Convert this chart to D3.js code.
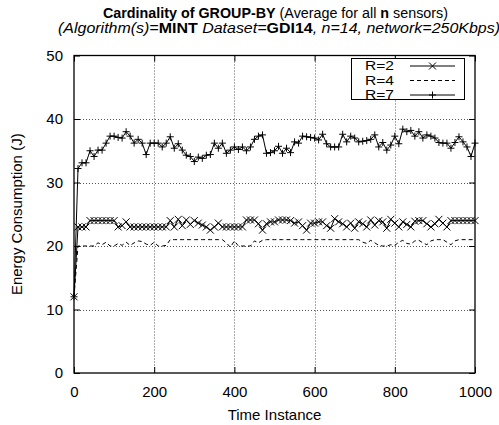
<!DOCTYPE html>
<html>
<head>
<meta charset="utf-8">
<script src="https://cdn.jsdelivr.net/npm/d3@7"></script>
<style>
  body { margin: 0; background: #fff; }
  svg { display: block; font-family: "Liberation Sans", Arial, Helvetica, sans-serif; }
</style>
</head>
<body>
<svg id="chart" width="499" height="425"></svg>
<script>
// ---- data ----
const timeInstances = [
  0, 10, 20, 30, 40, 50, 60, 70, 80, 90, 100,
  110, 120, 130, 140, 150, 160, 170, 180, 190, 200,
  210, 220, 230, 240, 250, 260, 270, 280, 290, 300,
  310, 320, 330, 340, 350, 360, 370, 380, 390, 400,
  410, 420, 430, 440, 450, 460, 470, 480, 490, 500,
  510, 520, 530, 540, 550, 560, 570, 580, 590, 600,
  610, 620, 630, 640, 650, 660, 670, 680, 690, 700,
  710, 720, 730, 740, 750, 760, 770, 780, 790, 800,
  810, 820, 830, 840, 850, 860, 870, 880, 890, 900,
  910, 920, 930, 940, 950, 960, 970, 980, 990, 1000
];
const seriesNames = ["R=2", "R=4", "R=7"];
const r2Values = [
  12,
  23.0, 23.0, 23.0, 24.0, 24.0, 24.0, 24.0, 24.0, 24.0, 24.0,
  23.0, 23.2, 23.8, 23.0, 23.0, 23.0, 23.0, 23.0, 23.0, 23.0,
  23.0, 23.0, 23.0, 24.0, 23.0, 24.2, 23.2, 24.1, 23.4, 24.0,
  23.6, 23.3, 23.0, 22.5, 23.0, 23.6, 23.0, 23.0, 23.0, 23.0,
  23.0, 23.0, 24.1, 24.1, 24.1, 23.5, 22.5, 23.5, 23.8, 23.8,
  24.1, 24.1, 24.1, 24.0, 23.6, 23.8, 23.2, 22.5, 23.6, 23.6,
  23.8, 23.8, 23.2, 22.8, 24.3, 23.8, 23.5, 23.0, 23.6, 22.8,
  23.8, 23.5, 23.0, 24.1, 23.3, 24.0, 23.8, 22.8, 24.2, 23.6,
  23.0, 23.8, 23.4, 23.0, 23.9, 24.0, 24.0, 23.5, 23.0, 23.5,
  24.2, 23.6, 23.0, 24.0, 24.0, 24.0, 24.0, 24.0, 24.0, 24.0
];
const r4Values = [
  12,
  20.0, 20.0, 20.0, 20.0, 20.0, 20.5, 20.2, 20.6, 20.0, 20.0,
  20.4, 20.1, 20.6, 20.1, 20.5, 20.8, 20.7, 20.3, 20.1, 20.6,
  20.0, 20.0, 20.1, 21.0, 21.0, 21.0, 21.0, 21.0, 21.0, 21.0,
  21.0, 21.0, 21.0, 21.0, 21.0, 21.0, 21.0, 20.5, 19.8, 20.8,
  20.0, 20.0, 20.0, 20.0, 20.8, 20.5, 20.9, 21.0, 21.0, 21.0,
  21.0, 21.0, 21.0, 21.0, 21.0, 21.0, 21.0, 21.0, 21.0, 21.0,
  21.0, 21.0, 21.0, 21.0, 21.0, 21.0, 21.0, 21.0, 21.0, 21.0,
  21.0, 20.6, 20.4, 20.9, 20.5, 20.1, 20.0, 20.0, 20.2, 20.1,
  20.6, 20.9, 20.4, 20.3, 20.8, 20.9, 20.5, 20.2, 20.8, 21.0,
  21.0, 21.0, 20.6, 20.2, 20.8, 21.0, 21.0, 21.0, 21.0, 21.0
];
const r7Values = [
  12,
  32.2, 33.1, 33.1, 35.0, 34.1, 35.1, 35.1, 36.2, 37.3, 37.3,
  37.1, 37.0, 38.0, 37.3, 36.2, 36.8, 36.2, 34.4, 36.2, 36.2,
  36.2, 35.6, 36.2, 37.2, 35.4, 36.1, 35.1, 34.3, 34.1, 33.3,
  34.0, 33.8, 34.3, 34.4, 36.2, 35.4, 36.2, 34.6, 35.1, 35.6,
  35.2, 35.6, 35.0, 35.6, 36.8, 37.3, 37.5, 34.6, 34.7, 35.0,
  35.7, 34.6, 35.4, 34.7, 36.4, 36.2, 37.3, 37.2, 37.1, 37.0,
  36.7, 37.6, 36.1, 35.6, 35.6, 35.6, 37.6, 36.4, 37.3, 37.0,
  36.4, 36.5, 36.6, 36.8, 37.5, 35.6, 36.3, 35.1, 35.9, 37.3,
  36.1, 38.4, 38.0, 38.2, 37.3, 38.0, 37.0, 37.5, 37.3, 37.0,
  36.3, 36.2, 36.2, 35.4, 36.3, 37.2, 36.4, 35.6, 34.1, 36.2
];
const xTickValues = [0, 200, 400, 600, 800, 1000];
const yTickValues = [0, 10, 20, 30, 40, 50];
const xGridValues = [200, 400, 600, 800];
const yGridValues = [10, 20, 30, 40];

// ---- layout ----
const svg = d3.select("#chart");
const pL = 74, pR = 475, pT = 55.5, pB = 373;
const x = d3.scaleLinear().domain([0, 1000]).range([pL, pR]);
const y = d3.scaleLinear().domain([0, 50]).range([pB, pT]);

// grid
const grid = svg.append("g").attr("stroke", "#555").attr("stroke-width", 1).attr("stroke-dasharray", "1,2");
grid.selectAll(".gx").data(xGridValues).join("line")
  .attr("x1", d => Math.round(x(d)) + 0.5).attr("x2", d => Math.round(x(d)) + 0.5)
  .attr("y1", pT).attr("y2", pB);
grid.selectAll(".gy").data(yGridValues).join("line")
  .attr("y1", d => Math.round(y(d)) + 0.5).attr("y2", d => Math.round(y(d)) + 0.5)
  .attr("x1", pL).attr("x2", pR);

// axes (inward ticks, mirrored)
const fs = "15px";
const axB = svg.append("g").attr("transform", `translate(0,${pB})`)
  .call(d3.axisBottom(x).tickValues(xTickValues).tickSize(-6).tickPadding(13).tickFormat(d3.format("d")));
const axT = svg.append("g").attr("transform", `translate(0,${pT})`)
  .call(d3.axisTop(x).tickValues(xTickValues).tickSize(-6).tickFormat(""));
const axL = svg.append("g").attr("transform", `translate(${pL},0)`)
  .call(d3.axisLeft(y).tickValues(yTickValues).tickSize(-6).tickPadding(11).tickFormat(d3.format("d")));
const axR = svg.append("g").attr("transform", `translate(${pR},0)`)
  .call(d3.axisRight(y).tickValues(yTickValues).tickSize(-6).tickFormat(""));
[axB, axT, axL, axR].forEach(a => {
  a.select(".domain").remove();
  a.selectAll("line").attr("stroke", "#000");
  a.selectAll("text").attr("fill", "#000").style("font-size", fs)
    .style("font-family", '"Liberation Sans", Arial, sans-serif');
});

// border
svg.append("rect").attr("x", pL).attr("y", pT).attr("width", pR - pL).attr("height", pB - pT)
  .attr("fill", "none").attr("stroke", "#000").attr("stroke-width", 1.3);

// lines
const lineGen = vals => d3.line().x((d, i) => x(timeInstances[i])).y(d => y(d))(vals);
const plot = svg.append("g");
plot.append("path").attr("d", lineGen(r4Values)).attr("fill", "none").attr("stroke", "#000")
  .attr("stroke-width", 1).attr("stroke-dasharray", "4,3");
plot.append("path").attr("d", lineGen(r2Values)).attr("fill", "none").attr("stroke", "#000").attr("stroke-width", 1);
plot.append("path").attr("d", lineGen(r7Values)).attr("fill", "none").attr("stroke", "#000").attr("stroke-width", 1);

const ms = 3.5;
function crossPath(cx, cy) { return `M${cx - ms},${cy - ms}L${cx + ms},${cy + ms}M${cx - ms},${cy + ms}L${cx + ms},${cy - ms}`; }
function plusPath(cx, cy) { return `M${cx - ms},${cy}L${cx + ms},${cy}M${cx},${cy - ms}L${cx},${cy + ms}`; }
plot.append("g").selectAll("path").data(r2Values).join("path")
  .attr("d", (d, i) => crossPath(x(timeInstances[i]), y(d))).attr("stroke", "#000").attr("stroke-width", 1).attr("fill", "none");
plot.append("g").selectAll("path").data(r7Values).join("path")
  .attr("d", (d, i) => plusPath(x(timeInstances[i]), y(d))).attr("stroke", "#000").attr("stroke-width", 1).attr("fill", "none");

// legend
const lg = svg.append("g");
lg.append("rect").attr("x", 351.5).attr("y", 58.5).attr("width", 113).attr("height", 41)
  .attr("fill", "#fff").attr("stroke", "#000").attr("stroke-width", 1);
const rowsY = [66, 80.5, 95];
const styles = [{ dash: null, mark: crossPath }, { dash: "4,3", mark: null }, { dash: null, mark: plusPath }];
seriesNames.forEach((name, i) => {
  lg.append("text").attr("x", 365).attr("y", rowsY[i]).attr("dy", "0.35em")
    .style("font-size", "12.5px").attr("textLength", 29).attr("lengthAdjust", "spacingAndGlyphs").text(name);
  lg.append("line").attr("x1", 410).attr("x2", 455).attr("y1", rowsY[i]).attr("y2", rowsY[i])
    .attr("stroke", "#000").attr("stroke-width", 1).attr("stroke-dasharray", styles[i].dash);
  if (styles[i].mark) lg.append("path").attr("d", styles[i].mark(432.5, rowsY[i])).attr("stroke", "#000").attr("fill", "none");
});

// titles
const t1 = svg.append("text").attr("x", 275.5).attr("y", 18).attr("text-anchor", "middle").style("font-size", "14px")
  .attr("textLength", 345).attr("lengthAdjust", "spacingAndGlyphs");
t1.append("tspan").attr("font-weight", "bold").text("Cardinality of GROUP-BY");
t1.append("tspan").text(" (Average for all ");
t1.append("tspan").attr("font-weight", "bold").text("n");
t1.append("tspan").text(" sensors)");
const t2 = svg.append("text").attr("x", 279).attr("y", 33).attr("text-anchor", "middle").style("font-size", "14px")
  .attr("textLength", 442).attr("lengthAdjust", "spacingAndGlyphs");
t2.append("tspan").attr("font-style", "italic").text("(Algorithm(s)=");
t2.append("tspan").attr("font-weight", "bold").text("MINT");
t2.append("tspan").attr("font-style", "italic").text(" Dataset=");
t2.append("tspan").attr("font-weight", "bold").text("GDI14");
t2.append("tspan").attr("font-style", "italic").text(", n=14, network=250Kbps)");

// axis labels
const cx = (pL + pR) / 2;
svg.append("text").attr("x", cx).attr("y", 420).attr("text-anchor", "middle").style("font-size", fs).text("Time Instance");
svg.append("text").attr("transform", `translate(22,${(pT + pB) / 2}) rotate(-90)`)
  .attr("text-anchor", "middle").style("font-size", fs).text("Energy Consumption (J)");
</script>
</body>
</html>
